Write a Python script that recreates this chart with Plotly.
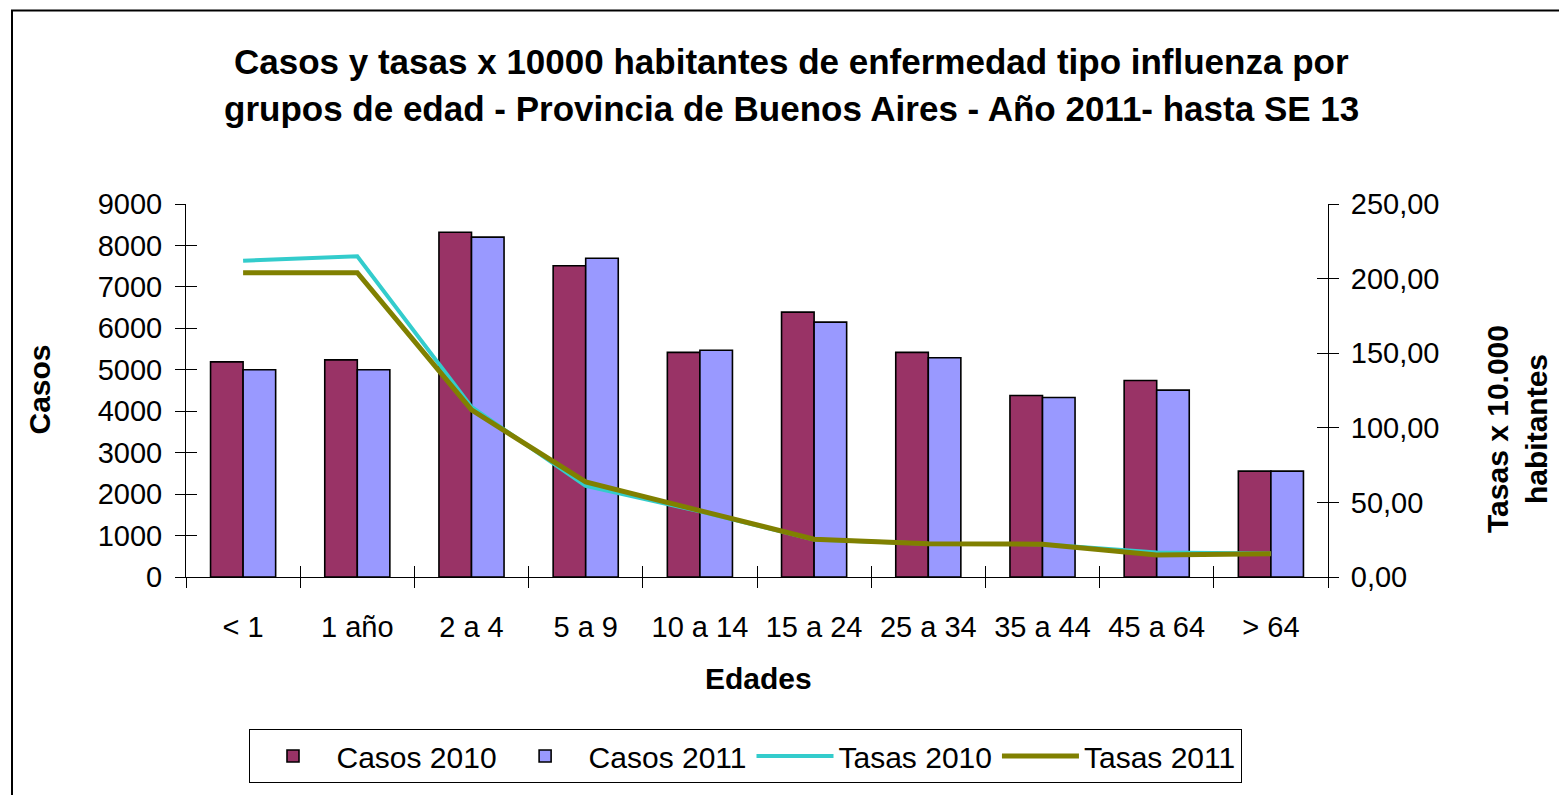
import plotly.graph_objects as go

categories = ["< 1", "1 año", "2 a 4", "5 a 9", "10 a 14", "15 a 24",
              "25 a 34", "35 a 44", "45 a 64", "> 64"]
casos_2010 = [5190, 5240, 8320, 7510, 5420, 6390, 5420, 4380, 4740, 2555]
casos_2011 = [5000, 5000, 8200, 7690, 5470, 6150, 5290, 4330, 4510, 2555]
tasas_2010 = [212, 215, 114, 61, 44, 25.1, 22.3, 22, 16.4, 15.7]
tasas_2011 = [204, 204, 112, 63.7, 44.5, 25.3, 22.3, 22, 14.7, 15.6]

FONT = "Liberation Sans, Arial, sans-serif"

# page has an 8px body margin; figure is sized to fit the 1567x795 window
OFF = 8
FW, FH = 1567 - OFF, 795 - OFF
# plot area in reference-window pixels
L, R, T, B = 186, 1328, 204, 582
W, H = R - L, B - T


def px(x):
    return (x - L) / W


def py(y):
    return (B - y) / H


fig = go.Figure()
fig.add_trace(go.Bar(name="Casos 2010", x=categories, y=casos_2010,
                     marker=dict(color="#993366", line=dict(color="black", width=1.6))))
fig.add_trace(go.Bar(name="Casos 2011", x=categories, y=casos_2011,
                     marker=dict(color="#9999FF", line=dict(color="black", width=1.6))))
fig.add_trace(go.Scatter(name="Tasas 2010", x=categories, y=tasas_2010, yaxis="y2",
                         mode="lines", line=dict(color="#33CCCC", width=4)))
fig.add_trace(go.Scatter(name="Tasas 2011", x=categories, y=tasas_2011, yaxis="y2",
                         mode="lines", line=dict(color="#808000", width=5)))
# empty helper traces so the overlay tick axes (inner half of crossing ticks) are drawn
fig.add_trace(go.Scatter(x=[None], y=[None], xaxis="x2", yaxis="y3",
                         showlegend=False, hoverinfo="skip"))
fig.add_trace(go.Scatter(x=[None], y=[None], xaxis="x2", yaxis="y4",
                         showlegend=False, hoverinfo="skip"))

axis_common = dict(showgrid=False, zeroline=False, showline=True, linecolor="black",
                   linewidth=1, ticks="outside", ticklen=10, tickcolor="black",
                   tickfont=dict(family=FONT, size=29, color="black"))
inner_common = dict(ticks="inside", ticklen=11, tickcolor="black", showticklabels=False,
                    showline=False, showgrid=False, zeroline=False)

fig.update_layout(
    width=FW, height=FH,
    margin=dict(l=L - OFF, r=FW - (R - OFF), t=T - OFF, b=FH - (B - OFF), pad=0),
    paper_bgcolor="white", plot_bgcolor="white",
    separators=",.",
    barmode="group", bargap=0.43, bargroupgap=0,
    font=dict(family=FONT, size=29, color="black"),
    xaxis=dict(**axis_common, type="category", tickson="boundaries",
               range=[-0.5, 9.5], ticklabelstandoff=24),
    yaxis=dict(**axis_common, range=[0, 9000], dtick=1000, tickformat="d",
               ticklabelstandoff=7),
    yaxis2=dict(**axis_common, range=[0, 250], dtick=50, tickformat=".2f",
                overlaying="y", side="right", ticklabelstandoff=6),
    xaxis2=dict(**inner_common, overlaying="x", range=[-0.5, 9.5], tick0=-0.5, dtick=1,
                side="bottom"),
    yaxis3=dict(**inner_common, overlaying="y", range=[0, 9000], dtick=1000, side="left"),
    yaxis4=dict(**inner_common, overlaying="y", range=[0, 250], dtick=50, side="right"),
    showlegend=True,
    legend=dict(orientation="h", x=px(745), xanchor="center", y=py(736), yanchor="top",
                bordercolor="black", borderwidth=1, bgcolor="white",
                font=dict(family=FONT, size=30, color="black"), itemwidth=77,
                traceorder="normal"),
    shapes=[dict(type="rect", xref="paper", yref="paper",
                 x0=px(12), x1=px(1565), y0=py(805), y1=py(8),
                 line=dict(color="black", width=2), layer="below")],
    annotations=[
        dict(text="<b>Casos y tasas x 10000 habitantes de enfermedad tipo influenza por</b>",
             xref="paper", yref="paper", x=px(791), y=py(60), showarrow=False,
             font=dict(family=FONT, size=35, color="black"), xanchor="center", yanchor="middle"),
        dict(text="<b>grupos de edad - Provincia de Buenos Aires - Año 2011- hasta SE 13</b>",
             xref="paper", yref="paper", x=px(791), y=py(107), showarrow=False,
             font=dict(family=FONT, size=35, color="black"), xanchor="center", yanchor="middle"),
        dict(text="<b>Edades</b>", xref="paper", yref="paper", x=px(758), y=py(685),
             showarrow=False, font=dict(family=FONT, size=30, color="black"),
             xanchor="center", yanchor="middle"),
        dict(text="<b>Casos</b>", xref="paper", yref="paper", x=px(40), y=py(392),
             showarrow=False, textangle=-90, font=dict(family=FONT, size=30, color="black"),
             xanchor="center", yanchor="middle"),
        dict(text="<b>Tasas x 10.000<br>habitantes</b>", xref="paper", yref="paper",
             x=px(1517), y=py(432), showarrow=False, textangle=-90,
             font=dict(family=FONT, size=30, color="black"),
             xanchor="center", yanchor="middle"),
    ],
)

fig.write_html("out.html")
